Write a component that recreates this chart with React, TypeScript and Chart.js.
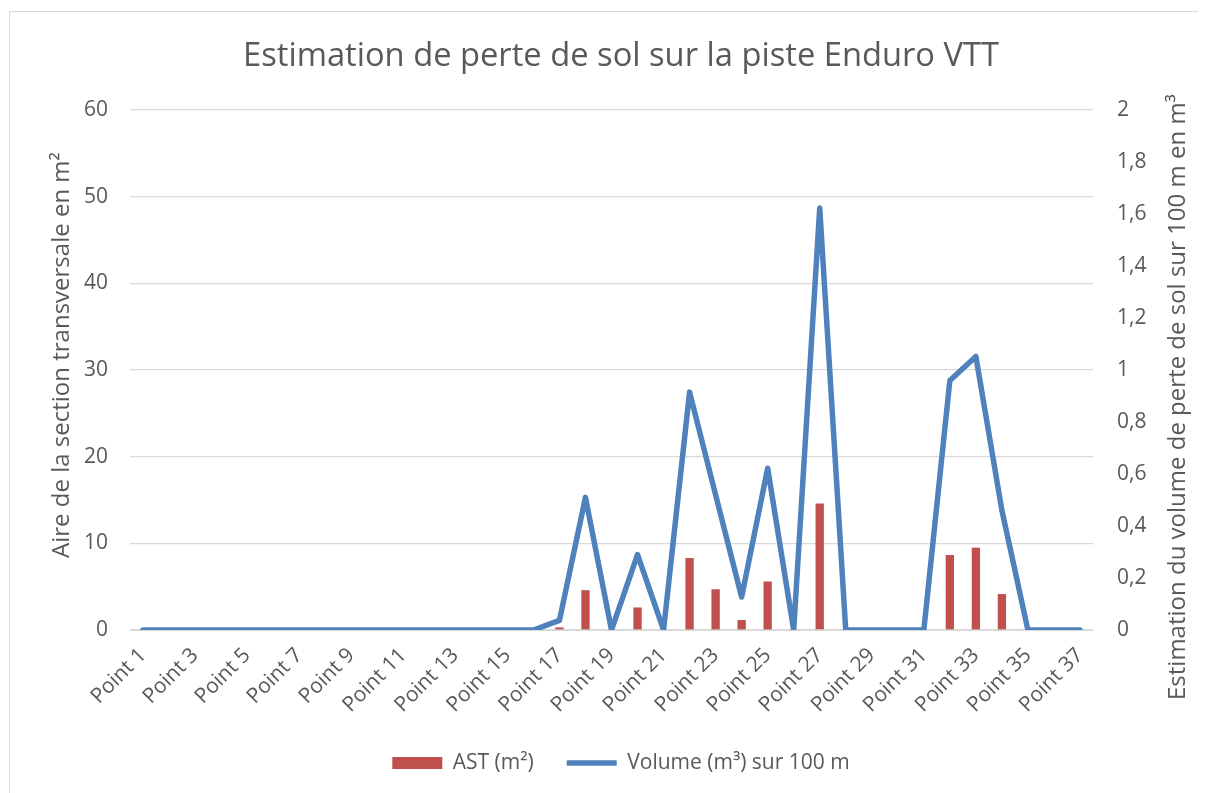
import React, { useEffect, useRef } from "react";
import { Chart, registerables } from "chart.js";

Chart.register(...registerables);

const pointLabels = [
  "Point 1", "Point 2", "Point 3", "Point 4", "Point 5", "Point 6", "Point 7", "Point 8",
  "Point 9", "Point 10", "Point 11", "Point 12", "Point 13", "Point 14", "Point 15", "Point 16",
  "Point 17", "Point 18", "Point 19", "Point 20", "Point 21", "Point 22", "Point 23", "Point 24",
  "Point 25", "Point 26", "Point 27", "Point 28", "Point 29", "Point 30", "Point 31", "Point 32",
  "Point 33", "Point 34", "Point 35", "Point 36", "Point 37",
];

// AST (m²) — left axis
const astValues = [
  0, 0, 0, 0, 0, 0, 0, 0,
  0, 0, 0, 0, 0, 0, 0, 0,
  0.3, 4.6, 0, 2.6, 0, 8.3, 4.7, 1.15,
  5.6, 0, 14.6, 0, 0, 0, 0, 8.65,
  9.5, 4.15, 0, 0, 0,
];

// Volume (m³) sur 100 m — right axis
const volumeValues = [
  0, 0, 0, 0, 0, 0, 0, 0,
  0, 0, 0, 0, 0, 0, 0, 0,
  0.037, 0.51, 0, 0.29, 0, 0.915, 0.52, 0.127,
  0.622, 0, 1.623, 0, 0, 0, 0, 0.96,
  1.052, 0.46, 0, 0, 0,
];

const leftTicks = { min: 0, max: 60, step: 10 };
const rightTicks = { min: 0, max: 2, step: 0.2 };

const chartTitle = "Estimation de perte de sol sur la piste Enduro VTT";
const leftAxisTitle = "Aire de la section transversale en m²";
const rightAxisTitle = "Estimation du volume de perte de sol sur 100 m en m³";
const seriesNames = ["AST (m²)", "Volume (m³) sur 100 m"];

const FONT = '"Open Sans", "DejaVu Sans", sans-serif';
const TEXT = "#595959";
const GRID = "#d9d9d9";

const axisTitlesPlugin = {
  id: "axisTitles",
  afterDraw(chart: any) {
    const { ctx, chartArea } = chart;
    const midY = (chartArea.top + chartArea.bottom) / 2;
    ctx.save();
    ctx.font = `24px ${FONT}`;
    ctx.fillStyle = TEXT;
    ctx.textAlign = "center";
    ctx.textBaseline = "middle";
    ctx.save();
    ctx.translate(chartArea.left - 68, midY - 15);
    ctx.rotate(-Math.PI / 2);
    ctx.fillText(leftAxisTitle, 0, 0);
    ctx.restore();
    ctx.save();
    ctx.translate(chartArea.right + 85, midY + 27);
    ctx.rotate(-Math.PI / 2);
    ctx.fillText(rightAxisTitle, 0, 0);
    ctx.restore();
    ctx.restore();
  },
};

export default function App() {
  const canvasRef = useRef<HTMLCanvasElement | null>(null);

  useEffect(() => {
    document.documentElement.style.overflow = "hidden";
    const canvas = canvasRef.current;
    if (!canvas) return;
    const chart = new Chart(canvas, {
      type: "bar",
      data: {
        labels: pointLabels,
        datasets: [
          {
            type: "bar",
            label: seriesNames[0],
            data: astValues,
            backgroundColor: "#c0504d",
            borderWidth: 0,
            yAxisID: "y",
            order: 1,
            categoryPercentage: 1,
            barPercentage: 0.32,
            pointStyle: "rect",
          } as any,
          {
            type: "line",
            label: seriesNames[1],
            data: volumeValues,
            borderColor: "#4f81bd",
            backgroundColor: "#4f81bd",
            borderWidth: 5.5,
            pointRadius: 0,
            tension: 0,
            borderJoinStyle: "round",
            borderCapStyle: "round",
            yAxisID: "y1",
            order: 0,
            pointStyle: "line",
          } as any,
        ],
      },
      options: {
        animation: false,
        responsive: true,
        maintainAspectRatio: false,
        layout: { padding: { left: 25, right: 0, top: 0, bottom: 16.5 } },
        plugins: {
          title: {
            display: true,
            text: chartTitle,
            color: TEXT,
            font: { family: FONT, size: 32.7, weight: "normal" },
            padding: { top: 25.4, bottom: 33.4 },
          },
          legend: {
            display: true,
            position: "bottom",
            labels: {
              usePointStyle: true,
              pointStyleWidth: 50,
              boxHeight: 12,
              padding: 33,
              color: TEXT,
              font: { family: FONT, size: 21 },
              sort: (a: any, b: any) => a.datasetIndex - b.datasetIndex,
            },
          },
          tooltip: { enabled: false },
        },
        scales: {
          x: {
            grid: { display: false },
            border: { color: GRID },
            ticks: {
              autoSkip: false,
              minRotation: 45,
              maxRotation: 45,
              padding: 5,
              color: TEXT,
              font: { family: FONT, size: 21 },
              callback: (_v: any, i: number) => (i % 2 === 0 ? pointLabels[i] : ""),
            },
            afterFit: (s: any) => {
              s.height = 89.5;
            },
          },
          y: {
            position: "left",
            min: leftTicks.min,
            max: leftTicks.max,
            grid: { color: GRID, lineWidth: 1.3, drawTicks: false },
            border: { display: false },
            ticks: {
              stepSize: leftTicks.step,
              padding: 22,
              color: TEXT,
              font: { family: FONT, size: 21 },
            },
            afterFit: (s: any) => {
              s.width = 95;
            },
          },
          y1: {
            position: "right",
            min: rightTicks.min,
            max: rightTicks.max,
            grid: { drawOnChartArea: false, drawTicks: false },
            border: { display: false },
            ticks: {
              stepSize: rightTicks.step,
              padding: 24,
              color: TEXT,
              font: { family: FONT, size: 21 },
              callback: (v: any) => String(Math.round(Number(v) * 10) / 10).replace(".", ","),
            },
            afterFit: (s: any) => {
              s.width = 114;
            },
          },
        },
      } as any,
      plugins: [axisTitlesPlugin],
    });
    return () => chart.destroy();
  }, []);

  return (
    <div
      style={{
        position: "relative",
        left: 1,
        top: 3,
        width: 1199,
        height: 790,
        border: `1px solid ${GRID}`,
        boxSizing: "border-box",
      }}
    >
      <canvas ref={canvasRef} />
    </div>
  );
}
